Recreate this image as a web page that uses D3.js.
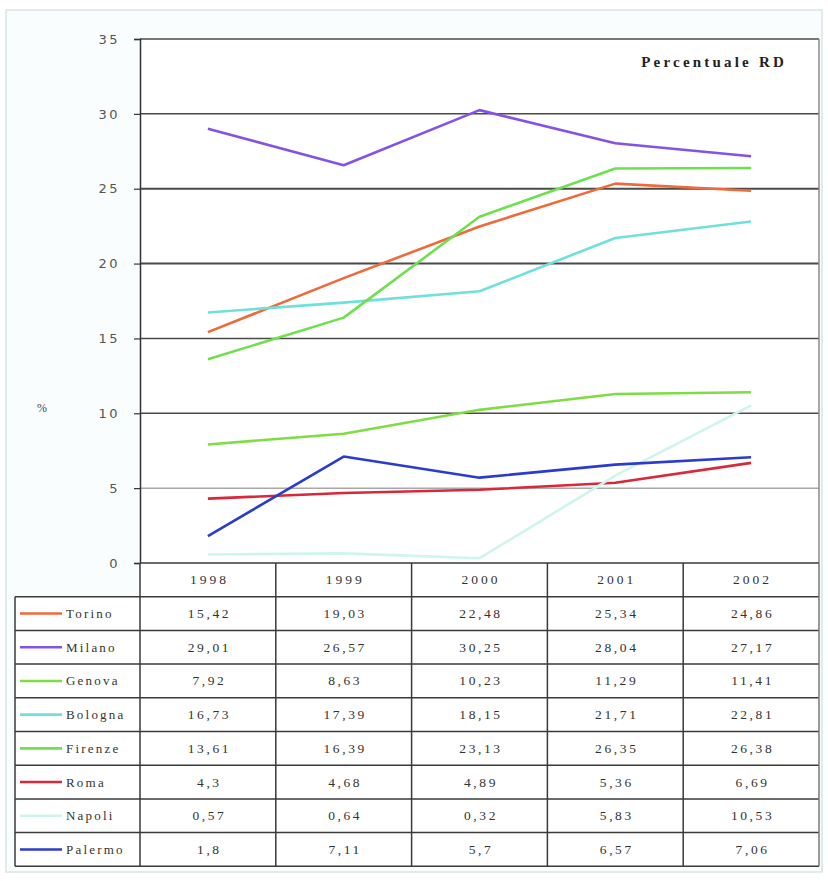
<!DOCTYPE html>
<html>
<head>
<meta charset="utf-8">
<script src="https://cdn.jsdelivr.net/npm/d3@7"></script>
<style>
  html, body { margin: 0; padding: 0; background: #ffffff; }
  svg { display: block; }
</style>
</head>
<body>
<svg id="chart" width="828" height="881"></svg>
<script>
// ---- data ----
const years = ["1998", "1999", "2000", "2001", "2002"];
const cities = ["Torino", "Milano", "Genova", "Bologna", "Firenze", "Roma", "Napoli", "Palermo"];
const torino  = [15.42, 19.03, 22.48, 25.34, 24.86];
const milano  = [29.01, 26.57, 30.25, 28.04, 27.17];
const genova  = [7.92, 8.63, 10.23, 11.29, 11.41];
const bologna = [16.73, 17.39, 18.15, 21.71, 22.81];
const firenze = [13.61, 16.39, 23.13, 26.35, 26.38];
const roma    = [4.3, 4.68, 4.89, 5.36, 6.69];
const napoli  = [0.57, 0.64, 0.32, 5.83, 10.53];
const palermo = [1.8, 7.11, 5.7, 6.57, 7.06];
const colors  = ["#ee6a3a", "#8452e6", "#7edd44", "#6fe0dc", "#6ee04e", "#d8283a", "#cdf5ee", "#2a3ccc"];
const yTicks  = [0, 5, 10, 15, 20, 25, 30, 35];
const title = "Percentuale RD";
const yLabel = "%";

const seriesValues = [torino, milano, genova, bologna, firenze, roma, napoli, palermo];
const series = cities.map((c, i) => ({ name: c, values: seriesValues[i], color: colors[i] }));

// ---- layout ----
const svg = d3.select("#chart");
const plotL = 140, plotR = 819, plotT = 39, plotB = 563;
const tableL = 15;
const rowH = 33.7;

const x = d3.scaleBand().domain(years).range([plotL, plotR]);
const y = d3.scaleLinear().domain([0, 35]).range([plotB, plotT]);

// outer frame
svg.append("rect").attr("x", 6).attr("y", 10).attr("width", 816).attr("height", 862)
  .attr("fill", "#fafdfd").attr("stroke", "#d9e4e4").attr("stroke-width", 1.5);

// plot area
svg.append("rect").attr("x", plotL).attr("y", plotT).attr("width", plotR - plotL).attr("height", plotB - plotT)
  .attr("fill", "#ffffff");

// gridlines
svg.append("g").selectAll("line").data(yTicks.filter(t => t > 0)).join("line")
  .attr("x1", plotL).attr("x2", plotR)
  .attr("y1", d => y(d)).attr("y2", d => y(d))
  .attr("stroke", d => d === 5 ? "#a8a8a8" : "#4a4a4a")
  .attr("stroke-width", d => (d === 25 || d === 20) ? 2 : 1.5);

// right border of plot
svg.append("line").attr("x1", plotR).attr("x2", plotR).attr("y1", plotT).attr("y2", plotB)
  .attr("stroke", "#8a8a8a").attr("stroke-width", 1.5);

// y axis
const yAxis = svg.append("g").attr("transform", `translate(${plotL},0)`)
  .call(d3.axisLeft(y).tickValues(yTicks).tickSize(6).tickPadding(14).tickFormat(d3.format("d")));
yAxis.select(".domain").attr("stroke", "#333").attr("stroke-width", 1.5);
yAxis.selectAll(".tick line").attr("stroke", "#333").attr("stroke-width", 1.2);
yAxis.selectAll(".tick text").attr("font-family", "DejaVu Sans, sans-serif").attr("font-size", 13)
  .attr("fill", "#555").attr("letter-spacing", "2.5px");

// y label
svg.append("text").attr("x", 42).attr("y", 412).attr("text-anchor", "middle")
  .attr("font-family", "Liberation Serif, serif").attr("font-size", 12).attr("fill", "#444").text(yLabel);

// title
svg.append("text").attr("x", 787).attr("y", 67).attr("text-anchor", "end")
  .attr("font-family", "Liberation Serif, serif").attr("font-weight", "bold").attr("font-size", 15)
  .attr("letter-spacing", "3.2px").attr("fill", "#222").text(title);

// lines
const line = d3.line().x((d, i) => x(years[i]) + x.bandwidth() / 2).y(d => y(d));
svg.append("g").selectAll("path").data(series).join("path")
  .attr("d", d => line(d.values))
  .attr("fill", "none").attr("stroke", d => d.color).attr("stroke-width", 2.6)
  .attr("stroke-linejoin", "round");

// ---- data table ----
const tbl = svg.append("g");
const tableTop = plotB;
const nRows = cities.length + 1;
const tableBottom = tableTop + nRows * rowH;

tbl.append("rect").attr("x", plotL).attr("y", tableTop).attr("width", plotR - plotL).attr("height", rowH)
  .attr("fill", "#fff");
tbl.append("rect").attr("x", tableL).attr("y", tableTop + rowH).attr("width", plotR - tableL).attr("height", cities.length * rowH)
  .attr("fill", "#fff");

const lineColor = "#3a3a3a";
for (let r = 0; r <= nRows; r++) {
  const yy = tableTop + r * rowH;
  tbl.append("line").attr("x1", r >= 1 ? tableL : plotL).attr("x2", plotR)
    .attr("y1", yy).attr("y2", yy).attr("stroke", lineColor).attr("stroke-width", 1.5);
}
tbl.append("line").attr("x1", tableL).attr("x2", tableL).attr("y1", tableTop + rowH).attr("y2", tableBottom)
  .attr("stroke", lineColor).attr("stroke-width", 1.5);
years.forEach(yr => {
  tbl.append("line").attr("x1", x(yr)).attr("x2", x(yr)).attr("y1", tableTop).attr("y2", tableBottom)
    .attr("stroke", lineColor).attr("stroke-width", 1.5);
});
tbl.append("line").attr("x1", plotR).attr("x2", plotR).attr("y1", tableTop).attr("y2", tableBottom)
  .attr("stroke", "#777").attr("stroke-width", 1.5);

const txtFont = "Liberation Serif, serif";
tbl.selectAll("text.yr").data(years).join("text").attr("class", "yr")
  .attr("x", d => x(d) + x.bandwidth() / 2 + 1.5).attr("y", tableTop + rowH / 2 + 4.5)
  .attr("text-anchor", "middle").attr("font-family", txtFont).attr("font-size", 13.5)
  .attr("letter-spacing", "3px").attr("fill", "#333").text(d => d);

series.forEach((s, i) => {
  const cy = tableTop + (i + 1) * rowH + rowH / 2;
  tbl.append("line").attr("x1", 20).attr("x2", 62).attr("y1", cy).attr("y2", cy)
    .attr("stroke", s.color).attr("stroke-width", 2.6);
  tbl.append("text").attr("x", 66).attr("y", cy + 4.5).attr("font-family", txtFont).attr("font-size", 13)
    .attr("letter-spacing", "2.2px").attr("fill", "#333").text(s.name);
  s.values.forEach((v, j) => {
    tbl.append("text").attr("x", x(years[j]) + x.bandwidth() / 2 + 1.5).attr("y", cy + 4.5)
      .attr("text-anchor", "middle").attr("font-family", txtFont).attr("font-size", 13.5)
      .attr("letter-spacing", "2.6px").attr("fill", "#333")
      .text(String(v).replace(".", ","));
  });
});
</script>
</body>
</html>
